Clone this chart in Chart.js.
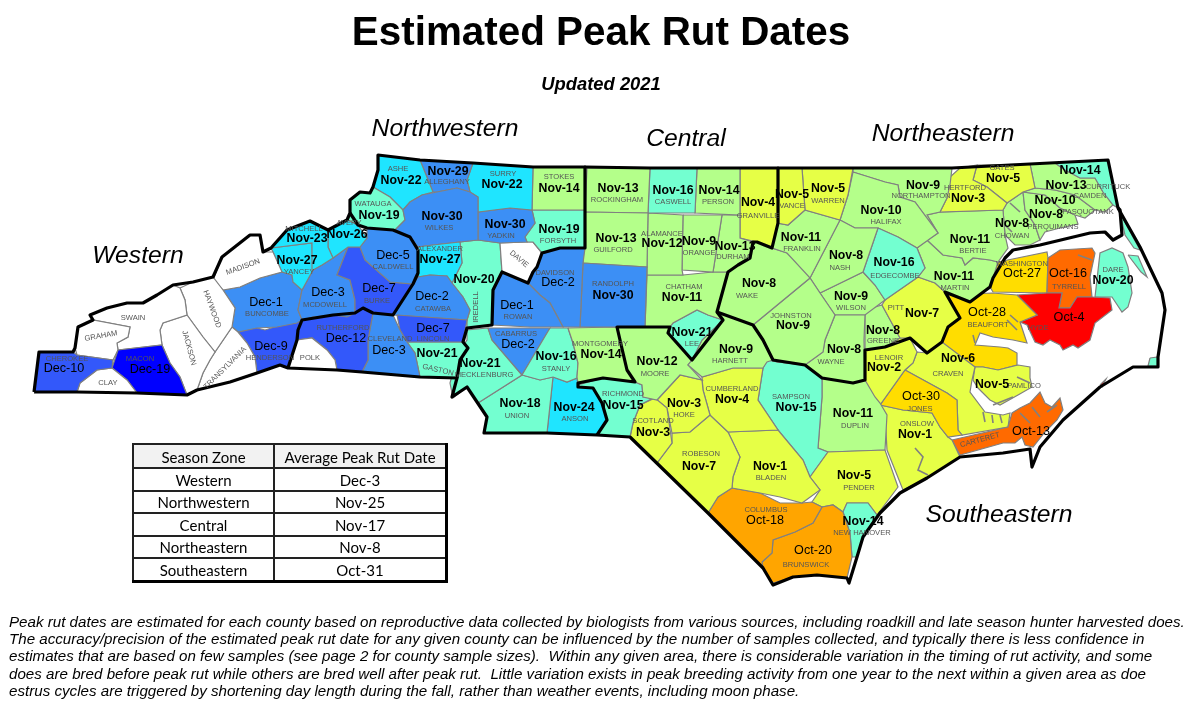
<!DOCTYPE html>
<html>
<head>
<meta charset="utf-8">
<title>Estimated Peak Rut Dates</title>
<script src="https://cdn.jsdelivr.net/npm/chart.js@4"></script>
<style>
  html, body { margin: 0; padding: 0; background: #fff; }
  body { position: relative; width: 1200px; height: 714px; overflow: hidden; font-family: "Liberation Sans", Arial, sans-serif; color: #000; }
  canvas { position: absolute; left: 0; top: 0; }
  h1 { position: absolute; left: 0; width: 1202px; top: 8px; margin: 0; text-align: center; font-size: 40.4px; line-height: 46px; font-weight: bold; }
  h2 { position: absolute; left: 0; width: 1202px; top: 74px; margin: 0; text-align: center; font-size: 18.4px; line-height: 20px; font-weight: bold; font-style: italic; }
  table { position: absolute; left: 132px; top: 443px; width: 316px; border-collapse: collapse; font-family: Lato, sans-serif; font-size: 15px; text-align: center; border-right: 3px solid #000; border-bottom: 3px solid #000; }
  th, td { border: 2px solid #222; padding: 2px 0 0; font-weight: normal; line-height: 15px; }
  th { background: #f2f2f2; height: 20px; }
  td { height: 18.5px; }
  #note { position: absolute; left: 9px; top: 613px; margin: 0; font-size: 15.15px; line-height: 17.2px; font-style: italic; white-space: pre; }
</style>
</head>
<body>
<canvas id="map" width="1200" height="714"></canvas>
<h1>Estimated Peak Rut Dates</h1>
<h2>Updated 2021</h2>
<table id="zones"></table>
<p id="note">Peak rut dates are estimated for each county based on reproductive data collected by biologists from various sources, including roadkill and late season hunter harvested does.<br>The accuracy/precision of the estimated peak rut date for any given county can be influenced by the number of samples collected, and typically there is less confidence in<br>estimates that are based on few samples (see page 2 for county sample sizes).  Within any given area, there is considerable variation in the timing of rut activity, and some<br>does are bred before peak rut while others are bred well after peak rut.  Little variation exists in peak breeding activity from one year to the next within a given area as doe<br>estrus cycles are triggered by shortening day length during the fall, rather than weather events, including moon phase.</p>
<script>
const ZONE_NAMES = ['Western', 'Northwestern', 'Central', 'Northeastern', 'Southeastern'];
const ZONE_AVERAGES = ['Dec-3', 'Nov-25', 'Nov-17', 'Nov-8', 'Oct-31'];
const ZONE_LABEL_AT = [[138, 256], [445, 129], [686, 139], [943, 134], [999, 515]];

const COUNTIES = [
  'CHEROKEE', 'CLAY', 'MACON', 'GRAHAM', 'SWAIN', 'JACKSON', 'HAYWOOD', 'TRANSYLVANIA', 'MADISON', 'MITCHELL',
  'YANCEY', 'AVERY', 'CALDWELL', 'BURKE', 'MCDOWELL', 'BUNCOMBE', 'HENDERSON', 'POLK', 'RUTHERFORD', 'CLEVELAND',
  'LINCOLN', 'GASTON', 'CATAWBA', 'ALEXANDER', 'WILKES', 'WATAUGA', 'ASHE', 'ALLEGHANY', 'SURRY', 'STOKES',
  'YADKIN', 'FORSYTH', 'DAVIE', 'IREDELL', 'ROWAN', 'DAVIDSON', 'RANDOLPH', 'GUILFORD', 'ROCKINGHAM', 'CASWELL',
  'PERSON', 'ALAMANCE', 'ORANGE', 'DURHAM', 'CHATHAM', 'LEE', 'GRANVILLE', 'VANCE', 'WARREN', 'FRANKLIN',
  'WAKE', 'JOHNSTON', 'HARNETT', 'MOORE', 'MONTGOMERY', 'STANLY', 'CABARRUS', 'MECKLENBURG', 'UNION', 'ANSON',
  'RICHMOND', 'SCOTLAND', 'HOKE', 'CUMBERLAND', 'ROBESON', 'BLADEN', 'COLUMBUS', 'BRUNSWICK', 'NEW HANOVER', 'PENDER',
  'SAMPSON', 'DUPLIN', 'WAYNE', 'NASH', 'EDGECOMBE', 'WILSON', 'HALIFAX', 'NORTHAMPTON', 'HERTFORD', 'GATES',
  'BERTIE', 'MARTIN', 'PITT', 'GREENE', 'LENOIR', 'JONES', 'ONSLOW', 'CARTERET', 'CRAVEN', 'PAMLICO',
  'BEAUFORT', 'HYDE', 'TYRRELL', 'WASHINGTON', 'DARE', 'CURRITUCK', 'CAMDEN', 'PASQUOTANK', 'PERQUIMANS', 'CHOWAN'
];

const PEAK_DATES = [
  'Dec-10', null, 'Dec-19', null, null, null, null, null, null, 'Nov-23',
  'Nov-27', 'Nov-26', 'Dec-5', 'Dec-7', 'Dec-3', 'Dec-1', 'Dec-9', null, 'Dec-12', 'Dec-3',
  'Dec-7', 'Nov-21', 'Dec-2', 'Nov-27', 'Nov-30', 'Nov-19', 'Nov-22', 'Nov-29', 'Nov-22', 'Nov-14',
  'Nov-30', 'Nov-19', null, 'Nov-20', 'Dec-1', 'Dec-2', 'Nov-30', 'Nov-13', 'Nov-13', 'Nov-16',
  'Nov-14', 'Nov-12', 'Nov-9', 'Nov-13', 'Nov-11', 'Nov-21', 'Nov-4', 'Nov-5', 'Nov-5', 'Nov-11',
  'Nov-8', 'Nov-9', 'Nov-9', 'Nov-12', 'Nov-14', 'Nov-16', 'Dec-2', 'Nov-21', 'Nov-18', 'Nov-24',
  'Nov-15', 'Nov-3', 'Nov-3', 'Nov-4', 'Nov-7', 'Nov-1', 'Oct-18', 'Oct-20', 'Nov-14', 'Nov-5',
  'Nov-15', 'Nov-11', 'Nov-8', 'Nov-8', 'Nov-16', 'Nov-9', 'Nov-10', 'Nov-9', 'Nov-3', 'Nov-5',
  'Nov-11', 'Nov-11', 'Nov-7', 'Nov-8', 'Nov-2', 'Oct-30', 'Nov-1', 'Oct-13', 'Nov-6', 'Nov-5',
  'Oct-28', 'Oct-4', 'Oct-16', 'Oct-27', 'Nov-20', 'Nov-14', 'Nov-13', 'Nov-10', 'Nov-8', 'Nov-8'
];

// these two are labelled Nov-14 but shaded with the next week in the source
const SHADED_NEXT_WEEK = ['NEW HANOVER', 'CURRITUCK'];

// where each county name sits on the map: [x, y, rotation]
const NAME_AT = [
  [67,359], [108,383], [140,359], [101,336,-10], [133,318], [189,348,75], [212,309,70], [225,368,-45], [243,267,-20], [304,229],
  [299,272], [349,223], [393,267], [377,301], [325,305], [267,314], [270,358], [310,358], [343,328], [390,339],
  [433,339], [438,370,13], [433,309], [440,249], [439,228], [373,204], [398,169], [447,182], [503,174], [559,177],
  [501,236], [558,241], [519,259,40], [476,307,-90], [518,317], [555,273], [613,284], [613,250], [617,200], [673,202],
  [718,202], [662,234], [699,253], [733,257], [684,287], [692,344], [758,216], [792,206], [828,201], [802,249],
  [747,296], [791,316], [730,361], [655,374], [600,344], [556,369], [516,334], [484,375], [517,416], [575,419],
  [623,394], [653,421], [684,415], [732,389], [701,454], [771,478], [766,510], [806,565], [862,533], [859,488],
  [791,397], [855,426], [831,362], [840,268], [895,276], [851,308], [886,222], [921,196], [965,188], [1002,168],
  [973,251], [955,288], [896,308], [883,341], [889,358], [920,409], [917,424], [980,440,-15], [948,374], [1024,386],
  [988,325], [1038,328], [1069,287], [1022,264], [1113,270], [1108,187], [1090,196], [1088,212], [1053,227], [1012,236]
];

// where each peak date sits on the map
const DATE_AT = [
  [64,369], null, [150,370], null, null, null, null, null, null, [307,239],
  [297,261], [347,235], [393,256], [379,289], [328,293], [266,303], [271,347], null, [346,339], [389,351],
  [433,329], [437,354], [432,297], [440,260], [442,217], [379,216], [401,181], [448,172], [502,185], [559,189],
  [505,225], [559,230], null, [474,280], [517,306], [558,283], [613,296], [616,239], [618,189], [673,191],
  [719,191], [662,244], [699,242], [735,247], [682,298], [692,333], [758,203], [792,195], [828,189], [801,238],
  [759,284], [793,326], [736,350], [657,362], [601,355], [556,357], [518,345], [480,364], [520,404], [574,408],
  [623,406], [653,433], [684,404], [732,400], [699,467], [770,467], [765,521], [813,551], [863,522], [854,476],
  [796,408], [853,414], [844,350], [846,256], [894,263], [851,297], [881,211], [923,186], [968,199], [1003,179],
  [970,240], [954,277], [922,314], [883,331], [884,368], [921,397], [915,435], [1031,432], [958,359], [992,385],
  [987,313], [1069,318], [1068,274], [1022,274], [1113,281], [1080,171], [1066,186], [1055,201], [1046,215], [1012,224]
];

const COUNTY_SHAPES = [
  [[34,392],[39,352],[73,352],[77,355],[113,360],[112,368],[97,370],[80,383],[77,392]],
  [[77,392],[80,383],[97,370],[112,368],[127,380],[137,393]],
  [[112,368],[118,350],[162,345],[170,363],[180,377],[187,395],[137,393],[127,380]],
  [[75,348],[78,327],[93,320],[130,327],[128,337],[117,343],[118,350],[113,360],[77,355]],
  [[93,320],[90,315],[107,308],[127,303],[143,303],[157,295],[173,285],[180,288],[185,300],[187,315],[163,323],[160,330],[162,345],[118,350],[117,343],[128,337],[130,327]],
  [[187,315],[203,337],[215,352],[210,360],[203,373],[197,390],[187,395],[180,377],[170,363],[162,345],[160,330],[163,323]],
  [[180,288],[193,282],[213,277],[223,290],[235,308],[232,327],[215,352],[203,337],[187,315],[185,300]],
  [[215,352],[232,327],[238,332],[247,343],[255,357],[257,373],[230,382],[197,390],[203,373],[210,360]],
  [[213,280],[222,257],[250,235],[260,235],[263,252],[273,252],[282,272],[260,278],[240,287],[223,290]],
  [[271,248],[287,230],[310,221],[328,230],[328,247],[333,258],[322,265],[313,270],[312,243]],
  [[273,252],[271,248],[312,243],[313,270],[302,290],[293,282],[292,275],[282,272]],
  [[328,230],[347,220],[358,225],[367,238],[360,247],[348,247],[333,258],[328,247]],
  [[360,247],[367,238],[367,228],[393,230],[410,237],[418,250],[418,273],[413,284],[390,282],[365,260]],
  [[348,247],[360,247],[365,260],[390,282],[413,284],[393,315],[373,313],[363,308],[355,313],[355,300],[350,280],[337,275]],
  [[302,290],[313,270],[322,265],[333,258],[348,247],[337,275],[350,280],[355,300],[355,313],[347,317],[333,315],[313,317],[302,320],[298,310]],
  [[223,290],[240,287],[260,278],[282,272],[292,275],[293,282],[302,290],[298,310],[302,320],[297,323],[277,327],[257,328],[238,332],[232,327],[235,308]],
  [[238,332],[253,327],[265,330],[288,323],[302,320],[298,330],[297,340],[288,368],[280,365],[257,373],[255,357],[247,343]],
  [[288,368],[297,340],[312,338],[327,350],[335,360],[337,370]],
  [[302,320],[333,315],[355,313],[363,308],[373,313],[368,340],[368,360],[362,372],[337,370],[335,360],[327,350],[312,338],[297,340],[298,330]],
  [[373,313],[393,315],[400,330],[407,342],[415,353],[420,377],[362,372],[368,360],[368,340]],
  [[397,315],[467,320],[463,342],[407,342],[400,330]],
  [[407,342],[463,342],[468,348],[460,360],[457,378],[420,377],[415,353]],
  [[393,315],[413,284],[418,277],[430,275],[447,276],[452,283],[463,297],[470,310],[467,320]],
  [[418,250],[418,247],[433,245],[460,242],[462,263],[452,283],[447,276],[430,275],[418,277]],
  [[395,230],[405,220],[403,210],[410,202],[422,195],[437,192],[457,188],[470,192],[478,197],[478,240],[460,242],[433,245],[418,247],[410,237]],
  [[350,213],[350,200],[360,192],[370,193],[373,187],[390,197],[403,210],[405,220],[395,230],[367,228],[358,225],[347,220]],
  [[378,155],[420,160],[433,192],[422,195],[410,202],[403,210],[390,197],[373,187],[378,170]],
  [[420,160],[473,163],[467,180],[470,192],[457,188],[437,192],[433,192]],
  [[473,163],[533,167],[532,210],[510,208],[478,212],[478,197],[470,192],[467,180]],
  [[533,167],[585,167],[585,210],[532,210]],
  [[478,212],[510,208],[532,210],[535,223],[525,237],[527,242],[500,243],[478,240]],
  [[532,210],[585,210],[585,248],[560,248],[542,253],[533,242],[527,242],[525,237],[535,223]],
  [[500,243],[527,242],[533,242],[542,253],[537,267],[533,272],[528,283],[502,272]],
  [[460,242],[478,240],[500,243],[502,272],[493,290],[492,325],[467,328],[467,320],[470,310],[463,297],[452,283],[462,263]],
  [[493,290],[502,272],[528,283],[540,295],[550,303],[563,327],[530,327],[492,325]],
  [[533,272],[537,267],[542,253],[560,248],[585,248],[583,263],[580,327],[563,327],[550,303],[540,295],[528,283]],
  [[583,263],[647,267],[645,327],[580,327]],
  [[585,212],[648,213],[647,267],[583,263]],
  [[587,168],[650,168],[648,213],[585,212]],
  [[650,168],[697,168],[695,213],[648,213]],
  [[697,168],[740,168],[740,215],[695,213]],
  [[648,213],[683,215],[682,270],[683,275],[647,275],[647,267]],
  [[683,215],[722,215],[713,272],[682,270]],
  [[722,215],[740,215],[740,238],[753,242],[750,258],[738,265],[728,272],[713,272]],
  [[647,275],[683,275],[713,272],[728,272],[717,312],[723,320],[708,315],[697,310],[673,323],[670,327],[645,327]],
  [[670,327],[673,323],[697,310],[708,315],[723,320],[702,340],[692,360],[680,345],[668,333]],
  [[740,168],[778,168],[778,223],[772,248],[757,242],[740,238]],
  [[778,168],[802,168],[805,210],[788,225],[777,223]],
  [[802,168],[853,168],[848,195],[840,220],[805,210]],
  [[805,210],[840,220],[810,278],[787,253],[772,248],[777,223],[788,225]],
  [[772,248],[787,253],[803,267],[810,278],[753,325],[717,312],[728,272],[738,265],[750,258],[753,242],[757,242]],
  [[753,325],[810,278],[820,293],[835,315],[825,340],[823,352],[805,365],[777,362],[773,360],[763,340]],
  [[723,320],[717,312],[753,325],[763,340],[773,360],[767,362],[763,368],[733,368],[702,377],[688,365],[692,360],[702,340]],
  [[617,327],[670,327],[668,333],[692,360],[688,365],[702,380],[680,375],[657,400],[643,397],[642,385],[635,382],[627,370],[623,353]],
  [[568,328],[617,327],[623,353],[627,370],[635,382],[603,378],[578,383],[577,377],[578,363],[573,343]],
  [[550,328],[568,328],[573,343],[578,363],[577,378],[567,382],[553,377],[540,380],[522,375]],
  [[488,328],[550,328],[522,375],[492,340]],
  [[467,330],[488,328],[492,340],[522,375],[478,403],[467,387],[453,398],[450,383],[458,353],[467,340]],
  [[478,403],[522,375],[540,380],[553,377],[547,433],[484,433],[487,417]],
  [[553,377],[567,382],[577,378],[578,387],[593,388],[602,403],[607,420],[597,435],[547,433]],
  [[578,385],[603,378],[635,382],[642,385],[643,397],[655,397],[640,405],[633,423],[630,437],[597,435],[607,420],[602,403],[593,388],[578,387]],
  [[655,398],[667,408],[672,443],[657,463],[630,437],[633,423],[640,405]],
  [[657,400],[680,375],[702,380],[703,390],[710,415],[690,432],[672,433],[667,408]],
  [[702,377],[733,368],[763,368],[758,400],[778,430],[728,432],[710,415],[703,390]],
  [[657,463],[672,443],[672,433],[690,432],[710,415],[728,432],[740,457],[733,477],[732,488],[718,497],[708,513]],
  [[728,432],[778,430],[803,460],[810,477],[820,490],[802,503],[780,497],[760,493],[732,488],[733,477],[740,457]],
  [[708,513],[718,497],[732,488],[760,493],[780,503],[802,503],[812,502],[822,507],[813,523],[795,532],[773,540],[772,553],[762,562],[763,568]],
  [[762,562],[772,553],[773,540],[795,532],[813,523],[822,507],[833,505],[843,512],[850,533],[852,557],[847,578],[817,575],[793,577],[773,583],[763,568]],
  [[843,512],[847,503],[868,503],[877,515],[863,537],[857,557],[852,557],[850,533]],
  [[810,477],[828,452],[885,450],[898,487],[877,515],[868,503],[847,503],[843,512],[833,505],[822,507],[812,502],[820,490]],
  [[763,368],[767,360],[777,362],[805,365],[822,378],[822,397],[818,448],[828,452],[810,477],[803,460],[778,430],[758,400]],
  [[822,378],[853,383],[865,380],[875,397],[880,403],[887,415],[885,450],[828,452],[818,448],[822,397]],
  [[835,315],[865,315],[864,340],[865,380],[853,383],[822,378],[805,365],[823,352],[825,340]],
  [[840,220],[855,228],[878,228],[863,272],[820,293],[810,278]],
  [[878,228],[898,237],[917,248],[925,268],[918,277],[885,300],[875,285],[863,272]],
  [[820,293],[863,272],[875,285],[885,300],[865,315],[835,315]],
  [[853,172],[885,182],[898,185],[900,197],[915,202],[938,233],[917,248],[898,237],[878,228],[855,228],[840,220],[848,195]],
  [[853,168],[952,168],[950,185],[947,198],[940,212],[927,215],[938,233],[915,202],[900,197],[898,185],[885,182],[853,172]],
  [[950,177],[960,168],[977,165],[973,180],[987,187],[1007,203],[1003,210],[940,212],[947,198]],
  [[977,165],[1030,164],[1035,188],[1023,192],[1007,203],[987,187],[973,180]],
  [[940,212],[1003,210],[1005,235],[1008,248],[998,262],[990,260],[973,258],[965,265],[962,258],[943,255],[927,240],[938,233],[927,215]],
  [[917,248],[927,240],[943,255],[962,258],[965,265],[973,258],[990,260],[998,262],[993,278],[990,287],[970,302],[945,292],[935,283],[918,277],[925,268]],
  [[885,300],[918,277],[935,283],[945,292],[960,318],[948,327],[942,342],[927,353],[910,338],[900,338],[882,305]],
  [[865,315],[865,310],[882,305],[900,338],[885,347],[865,350]],
  [[865,350],[885,347],[900,338],[910,338],[917,352],[913,363],[905,370],[880,405],[867,393],[865,380]],
  [[880,405],[905,370],[947,393],[957,400],[958,430],[962,435],[948,437],[940,427],[932,413],[903,410]],
  [[880,405],[903,410],[932,413],[940,427],[948,437],[952,440],[960,457],[927,478],[903,490],[887,450],[885,413]],
  [[952,440],[1008,427],[1012,413],[1020,408],[1030,403],[1040,392],[1045,403],[1052,407],[1060,398],[1063,410],[1057,420],[1045,432],[1033,447],[1025,445],[1022,437],[1015,443],[1003,443],[960,455]],
  [[917,352],[927,353],[942,342],[975,367],[972,380],[970,392],[985,412],[1003,415],[1010,413],[1008,427],[962,435],[958,430],[957,400],[947,393],[905,370],[913,363]],
  [[975,367],[983,367],[998,370],[1018,365],[1030,367],[1030,378],[1032,387],[1018,395],[1000,405],[990,400],[978,388],[973,380]],
  [[948,295],[992,293],[1017,295],[1037,315],[1020,322],[1027,343],[1013,340],[993,337],[980,333],[975,345],[1000,347],[1008,348],[1017,353],[1017,365],[998,370],[983,367],[975,367],[942,343],[948,327],[960,318]],
  [[1017,295],[1047,293],[1062,293],[1059,308],[1070,308],[1077,297],[1092,297],[1110,298],[1112,310],[1095,323],[1090,340],[1078,348],[1073,345],[1063,350],[1060,345],[1050,340],[1043,345],[1035,342],[1027,325],[1020,322],[1037,315]],
  [[1048,258],[1060,250],[1092,248],[1095,253],[1090,277],[1092,297],[1077,297],[1070,308],[1059,308],[1062,293],[1047,293]],
  [[998,262],[1047,252],[1048,258],[1047,293],[993,292],[990,287],[993,278]],
  [[1095,297],[1100,253],[1112,248],[1123,253],[1128,267],[1132,293],[1128,307],[1122,312],[1112,297]],
  [[1055,163],[1108,160],[1118,208],[1113,205],[1103,192],[1095,178],[1080,178],[1065,170]],
  [[1030,164],[1055,163],[1065,170],[1080,178],[1095,178],[1103,192],[1113,205],[1105,212],[1095,210],[1075,195],[1055,190],[1035,188]],
  [[1035,188],[1055,190],[1075,195],[1095,210],[1085,218],[1075,215],[1060,208],[1045,195],[1023,192]],
  [[1023,192],[1045,195],[1060,208],[1075,215],[1078,224],[1060,228],[1045,232],[1040,240],[1035,225],[1025,210]],
  [[1007,203],[1023,192],[1025,210],[1035,225],[1040,240],[1030,245],[1015,245],[1005,235],[1003,210]]
];

// outer banks slivers that carry no label of their own
const BANK_DATES = ['Nov-15', 'Nov-20', 'Nov-20', 'Oct-4'];
const BANK_SHAPES = [
  [[1120,213],[1140,250],[1134,248],[1125,235]],
  [[1128,255],[1138,256],[1147,277],[1141,272]],
  [[1150,358],[1158,357],[1158,366],[1148,366]],
  [[1100,385],[1106,379],[1102,387]]
];

// short grey creeks and inlets along the sounds
const INLET_LINES = [
  [[915,448],[923,457],[918,470],[928,475]],
  [[973,335],[975,343]], [[1010,315],[1018,322]], [[1007,320],[1017,330]],
  [[1017,377],[1030,383]], [[993,405],[1013,397]],
  [[983,412],[985,422]], [[992,415],[993,423]], [[1000,415],[1002,423]],
  [[1020,413],[1030,423]], [[1032,407],[1040,417]], [[1047,412],[1057,405]],
  [[1078,255],[1092,260]], [[1010,203],[1020,212]], [[1005,225],[1012,232]]
];

// thick zone and state boundaries
const ZONE_LINES = [
  [[34,392],[39,352],[73,352],[75,348],[78,327],[93,320],[90,315],[107,308],[127,303],[143,303],[157,295],[173,285],[193,282],[213,277],[222,257],[250,235],[260,235],[263,252],[271,248],[287,230],[310,221],[328,230],[347,220],[350,213],[350,200],[360,192],[370,193],[373,187],[378,170],[378,155],[420,160],[473,163],[533,167],[585,167],[650,168],[740,168],[853,168],[952,168],[1030,164],[1108,160],[1118,208],[1140,247],[1162,293],[1165,310],[1158,357],[1158,367],[1133,367],[1100,387],[1063,420],[1040,447],[1032,467],[1030,449],[1003,453],[960,457],[927,478],[900,493],[880,513],[863,537],[857,557],[849,583],[847,578],[817,575],[793,577],[773,585],[763,568],[708,513],[630,437],[597,435],[547,433],[484,433],[487,417],[467,387],[452,397],[457,378],[420,377],[362,372],[337,370],[288,368],[280,365],[257,373],[230,382],[197,390],[187,395],[137,393],[77,392],[34,392]],
  [[288,368],[297,340],[298,330],[302,320],[333,315],[355,313],[363,308],[373,313],[393,315],[413,284],[418,273],[418,250],[410,237],[393,230],[367,228],[358,225],[350,213]],
  [[585,167],[585,248],[560,248],[542,253],[537,267],[533,272],[528,283],[502,272],[493,290],[492,325],[467,328],[463,342],[468,348],[460,360],[457,378]],
  [[778,168],[778,223],[772,248],[757,242],[753,242],[750,258],[738,265],[728,272],[717,312],[723,320],[692,360],[668,333],[670,327],[617,327],[623,353],[627,370],[635,382],[603,378],[578,383],[578,387],[593,388],[602,403],[607,420],[597,435]],
  [[717,312],[753,325],[763,340],[773,360],[805,365],[822,378],[853,383],[865,380],[865,350],[885,347],[910,338],[927,353],[942,342],[948,327],[960,318],[945,292],[970,302],[990,287],[993,278],[1005,258],[1013,250],[1040,245],[1090,233],[1105,232],[1113,240],[1122,235],[1120,210],[1118,208]]
];

const BIN_STARTS = [0, 10, 17, 24, 32, 39, 46, 53, 60, 68, 75];
const BIN_COLOURS = ['#ff0000', '#ff6a00', '#ffa500', '#ffdd00', '#e6ff46', '#b4ff8a', '#73ffd0', '#1fe5ff', '#3c8ff5', '#3358fa', '#0000ff'];
const MONTH_OFFSETS = { Oct: 0, Nov: 31, Dec: 61 };

// colour of a county follows the week its peak date falls in
function binColour( date, name ) {
	if ( ! date ) {
		return '#ffffff';
	}
	const parts = date.split( '-' );
	const day = MONTH_OFFSETS[ parts[ 0 ] ] + parseInt( parts[ 1 ], 10 ) + ( SHADED_NEXT_WEEK.includes( name ) ? 1 : 0 );
	let colour = BIN_COLOURS[ 0 ];
	BIN_STARTS.forEach( ( start, i ) => {
		if ( day >= start ) {
			colour = BIN_COLOURS[ i ];
		}
	} );
	return colour;
}

function toPoints( shape ) {
	return shape.map( ( p ) => ( { x: p[ 0 ], y: p[ 1 ] } ) );
}

function shapeDataset( shape, date, name ) {
	const closed = shape.concat( [ shape[ 0 ] ] );
	return {
		data: toPoints( closed ),
		showLine: true,
		fill: 'shape',
		backgroundColor: binColour( date, name ),
		borderColor: '#808080',
		borderWidth: 1.2,
		pointRadius: 0,
		tension: 0,
		order: 3,
	};
}

const datasets = COUNTY_SHAPES.map( ( shape, i ) => shapeDataset( shape, PEAK_DATES[ i ], COUNTIES[ i ] ) )
	.concat( BANK_SHAPES.map( ( shape, i ) => shapeDataset( shape, BANK_DATES[ i ], '' ) ) )
	.concat( INLET_LINES.map( ( line ) => ( {
		data: toPoints( line ),
		showLine: true,
		fill: false,
		borderColor: '#808080',
		borderWidth: 1.6,
		pointRadius: 0,
		tension: 0,
		order: 2,
	} ) ) )
	.concat( ZONE_LINES.map( ( line ) => ( {
		data: toPoints( line ),
		showLine: true,
		fill: false,
		borderColor: '#000',
		borderWidth: 3.2,
		borderJoinStyle: 'round',
		pointRadius: 0,
		tension: 0,
		order: 1,
	} ) ) );

const mapLabels = {
	id: 'mapLabels',
	afterDatasetsDraw( chart ) {
		const { ctx, scales } = chart;
		ctx.save();
		ctx.textAlign = 'center';
		ctx.textBaseline = 'middle';

		// county names
		ctx.font = '7.6px "Liberation Sans", Arial, sans-serif';
		ctx.fillStyle = '#555';
		COUNTIES.forEach( ( name, i ) => {
			const at = NAME_AT[ i ];
			ctx.save();
			ctx.translate( scales.x.getPixelForValue( at[ 0 ] ), scales.y.getPixelForValue( at[ 1 ] ) );
			ctx.rotate( ( at[ 2 ] || 0 ) * Math.PI / 180 );
			ctx.fillText( name, 0, 0 );
			ctx.restore();
		} );

		// peak dates, the November ones are set bold in the source
		ctx.fillStyle = '#000';
		PEAK_DATES.forEach( ( date, i ) => {
			if ( ! date ) {
				return;
			}
			const bold = date.startsWith( 'Nov' );
			ctx.font = ( bold ? 'bold 12.3px' : '12.6px' ) + ' "Liberation Sans", Arial, sans-serif';
			ctx.fillText( date, scales.x.getPixelForValue( DATE_AT[ i ][ 0 ] ), scales.y.getPixelForValue( DATE_AT[ i ][ 1 ] ) );
		} );

		// zone headings
		ctx.font = 'italic 24.7px "Liberation Sans", Arial, sans-serif';
		ZONE_NAMES.forEach( ( name, i ) => {
			ctx.fillText( name, scales.x.getPixelForValue( ZONE_LABEL_AT[ i ][ 0 ] ), scales.y.getPixelForValue( ZONE_LABEL_AT[ i ][ 1 ] ) );
		} );
		ctx.restore();
	},
};

new Chart( document.getElementById( 'map' ), {
	type: 'scatter',
	data: { datasets },
	options: {
		responsive: false,
		animation: false,
		devicePixelRatio: 1,
		layout: { padding: 0 },
		plugins: { legend: { display: false }, tooltip: { enabled: false } },
		scales: {
			x: { type: 'linear', min: 0, max: 1200, display: false },
			y: { type: 'linear', min: 0, max: 714, reverse: true, display: false },
		},
	},
	plugins: [ mapLabels ],
} );

const rows = [ '<tr><th>Season Zone</th><th>Average Peak Rut Date</th></tr>' ];
ZONE_NAMES.forEach( ( name, i ) => {
	rows.push( `<tr><td style="width:139px">${ name }</td><td>${ ZONE_AVERAGES[ i ] }</td></tr>` );
} );
document.getElementById( 'zones' ).innerHTML = rows.join( '' );
</script>
</body>
</html>
